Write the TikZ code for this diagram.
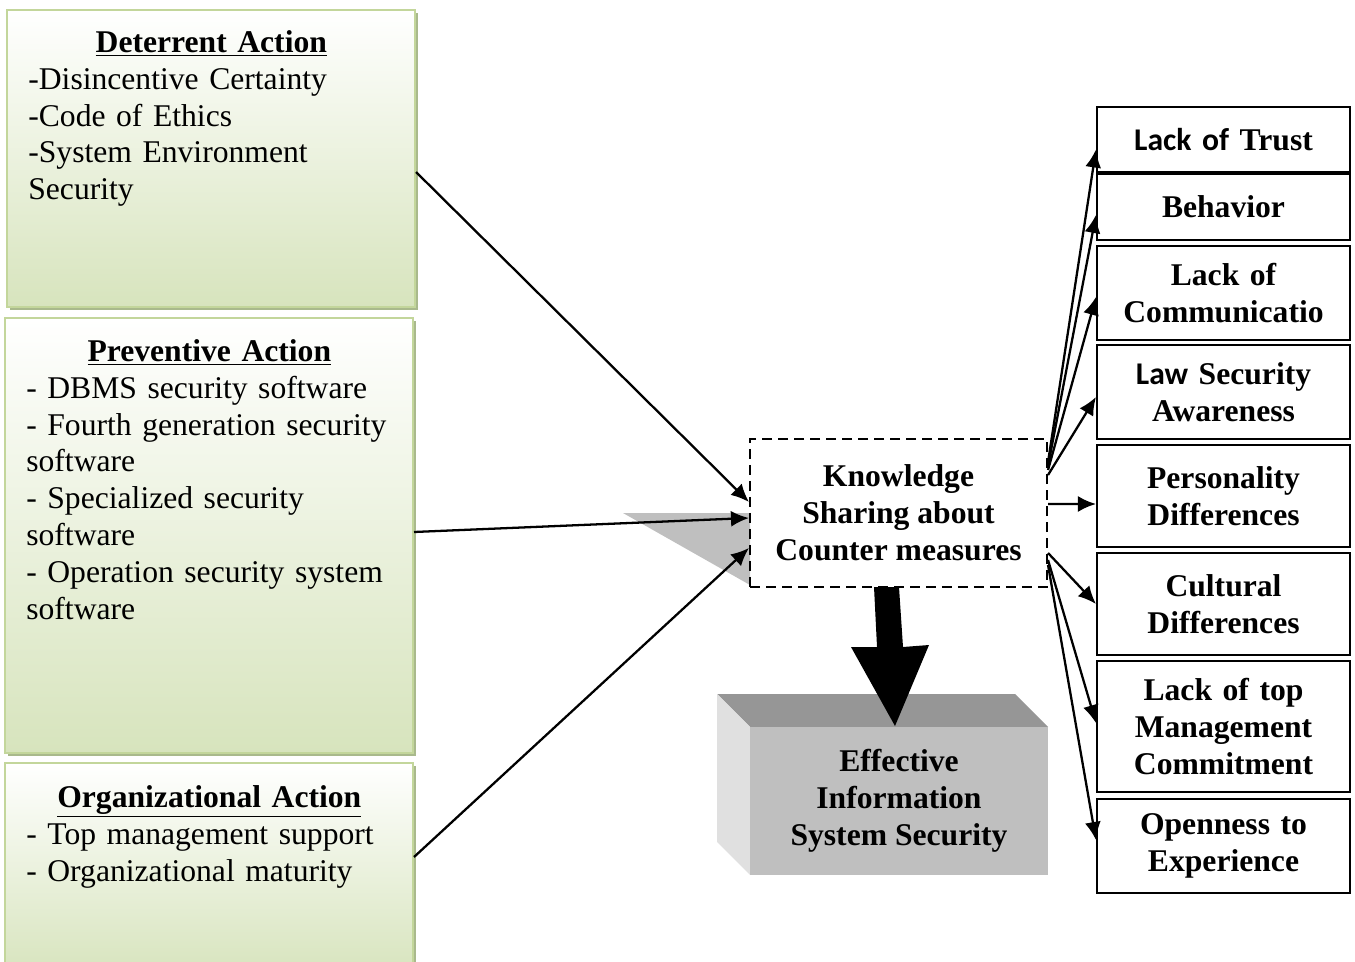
\documentclass[tikz,border=0pt]{standalone}
\usepackage{fontspec}
\setmainfont{Liberation Serif}
\newfontfamily\calibri{Carlito}
\usetikzlibrary{arrows.meta,shadows}
\definecolor{greenbox}{HTML}{D7E4BD}
\definecolor{greenline}{HTML}{C3D69B}
\definecolor{greenshade}{HTML}{A9B98C}
\tikzstyle{action} = [rectangle, draw=greenline, line width=1.2pt,
    top color=white, bottom color=greenbox, minimum width=8.16cm,
    drop shadow={shadow xshift=0.06cm, shadow yshift=-0.06cm, fill=greenshade, opacity=1}]
\tikzstyle{items} = [text width=7.32cm, align=left, inner sep=0pt,
    font=\fontsize{18}{21}\selectfont]
\tikzstyle{factor} = [rectangle, draw, line width=1.2pt, minimum width=5.06cm,
    text width=4.9cm, align=center, inner sep=0pt, font=\fontsize{18}{21}\selectfont\bfseries]
\tikzstyle{line} = [draw, line width=1.3pt, -{Latex[length=3.6mm,width=3.2mm]}]
\newcommand{\heading}[1]{\makebox[7.32cm]{\textbf{\underline{#1}}}}

\begin{document}
\begin{tikzpicture}[x=0.02cm, y=-0.02cm]
 \useasboundingbox (0,0) rectangle (1355,962);
 % action boxes
 \node[action, minimum height=5.94cm] (det) at (211,158.5) {};
 \node[action, minimum height=8.7cm] (prev) at (209,535.5) {};
 \node[action, minimum height=4.24cm] (org) at (209,869) {};
 \node[items, anchor=north west] (dettext) at (28,30) {\heading{Deterrent Action}\\
   -Disincentive Certainty\\-Code of Ethics\\-System Environment\\Security};
 \node[items, anchor=north west] (prevtext) at (26,339) {\heading{Preventive Action}\\
   - DBMS security software\\- Fourth generation security\\software\\
   - Specialized security\\software\\- Operation security system\\software};
 \node[items, anchor=north west] (orgtext) at (26,785) {\heading{Organizational Action}\\
   - Top management support\\- Organizational maturity};

 % knowledge sharing
 \fill[black!25] (623,513) -- (750,513) -- (750,585) -- cycle;
 \node[draw, dash pattern=on 0.2cm off 0.12cm, line width=1.2pt, minimum width=5.94cm,
   minimum height=2.96cm, align=center, font=\fontsize{18}{21}\selectfont\bfseries]
   (ks) at (898.5,513) {Knowledge\\Sharing about\\Counter measures};

 % effective security box
 \fill[black!41] (717,694) -- (1015,694) -- (1048,727) -- (750,727) -- cycle;
 \fill[black!12] (717,694) -- (750,727) -- (750,875) -- (717,842) -- cycle;
 \node[fill=black!25, minimum width=5.96cm, minimum height=2.96cm, align=center,
   font=\fontsize{18}{21}\selectfont\bfseries] (eiss) at (899,801)
   {Effective\\Information\\System Security};
 \fill (874,587) -- (899,587) -- (903,647) -- (929,645) -- (895,726)
   -- (851,647) -- (877,647) -- cycle;

 % factors
 \node[factor, minimum height=1.3cm] (trust) at (1223.5,139.5) {{\calibri Lack of} Trust};
 \node[factor, minimum height=1.32cm] (behav) at (1223.5,207) {Behavior};
 \node[factor, minimum height=1.88cm] (comm) at (1223.5,293) {Lack of\\Communicatio};
 \node[factor, minimum height=1.88cm] (law) at (1223.5,392) {{\calibri Law} Security\\Awareness};
 \node[factor, minimum height=2.04cm] (pers) at (1223.5,496) {Personality\\Differences};
 \node[factor, minimum height=2.04cm] (cult) at (1223.5,604) {Cultural\\Differences};
 \node[factor, minimum height=2.62cm] (mgmt) at (1223.5,726.5) {Lack of top\\Management\\Commitment};
 \node[factor, minimum height=1.88cm] (open) at (1223.5,846) {Openness to\\Experience};

 \path[line] ([yshift=-0.27cm]det.east) -- ([yshift=0.22cm]ks.west);
 \path[line] ([yshift=0.07cm]prev.east) -- ([yshift=-0.1cm]ks.west);
 \path[line] ([yshift=0.24cm]org.east) -- ([yshift=-0.7cm]ks.west);

 \path[line] ([yshift=1.02cm]ks.east) -- ([yshift=-0.2cm]trust.west);
 \path[line] ([yshift=0.94cm]ks.east) -- ([yshift=-0.16cm]behav.west);
 \path[line] ([yshift=0.86cm]ks.east) -- ([yshift=-0.08cm]comm.west);
 \path[line] ([yshift=0.76cm]ks.east) -- ([yshift=-0.1cm]law.west);
 \path[line] ([yshift=0.18cm]ks.east) -- ([yshift=-0.16cm]pers.west);
 \path[line] ([yshift=-0.8cm]ks.east) -- (cult.west);
 \path[line] ([yshift=-0.94cm]ks.east) -- ([yshift=0.07cm]mgmt.west);
 \path[line] ([yshift=-1.04cm]ks.east) -- ([yshift=0.12cm]open.west);
\end{tikzpicture}
\end{document}
